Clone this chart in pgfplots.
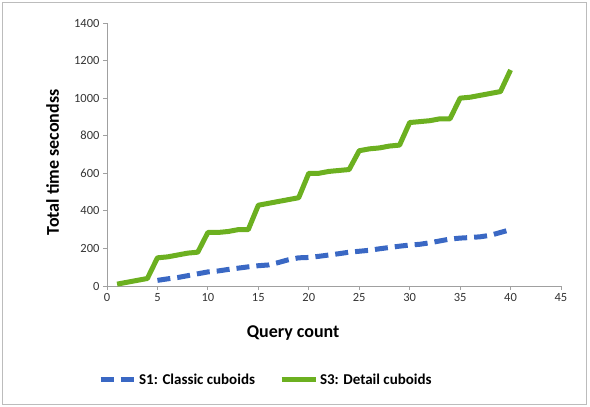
\documentclass[border=0pt]{standalone}
\usepackage{pgfplots}
\pgfplotsset{compat=1.18}
\usepackage{fontspec}
\setmainfont{Carlito}
\definecolor{sblue}{RGB}{58,104,196}
\definecolor{sgreen}{RGB}{108,176,32}
\definecolor{axgray}{RGB}{160,160,160}
\begin{document}
\begin{tikzpicture}[x=1pt,y=1pt]
\path[use as bounding box] (-107,-121) rectangle (483,286);
\draw[axgray!70, line width=1pt] (-104,-118) rectangle (479,283);
\begin{axis}[
    at={(0,0)}, anchor=origin,
    scale only axis,
    width=454pt, height=263pt,
    xmin=0, xmax=45, ymin=0, ymax=1400,
    xtick={0,5,...,45}, ytick={0,200,...,1400},
    axis x line=bottom, axis y line=left,
    axis line style={axgray, line width=0.8pt, -},
    tick style={axgray, line width=0.8pt},
    tick align=outside, major tick length=4pt,
    ticklabel style={font=\fontsize{12.5}{14}\selectfont, text=black!80},
    /pgf/number format/assume math mode=true,
    /pgf/number format/1000 sep={},
    scaled ticks=false,
    xlabel={Query count},
    ylabel={Total time secondss},
    xlabel style={font=\fontsize{18}{21}\selectfont\bfseries, at={(axis description cs:0.41,-0.18)}, anchor=center},
    ylabel style={font=\fontsize{18}{21}\selectfont\bfseries, at={(axis description cs:-0.12,0.47)}, anchor=center},
    legend style={draw=none, fill=none, at={(axis description cs:0.35,-0.357)}, anchor=center,
        font=\fontsize{15}{18}\selectfont\bfseries, legend columns=2,
        /tikz/every even column/.append style={column sep=22pt}},
    legend image code/.code={\draw[#1, line width=5pt] (0pt,0pt) -- (34pt,0pt);},
]
\addplot[sblue, line width=5pt, dash pattern=on 13pt off 7pt] coordinates {
 (5,30) (6,38) (7,45) (8,55) (9,65) (10,75) (11,80) (12,88) (13,95) (14,102)
 (15,108) (16,112) (17,125) (18,140) (19,150) (20,152) (21,158) (22,165) (23,172) (24,180)
 (25,185) (26,190) (27,198) (28,205) (29,212) (30,218) (31,222) (32,230) (33,240) (34,250)
 (35,255) (36,258) (37,262) (38,270) (39,285) (40,300)
};
\addlegendentry{S1: Classic cuboids}
\addplot[sgreen, line width=5pt, line join=round] coordinates {
 (1,10) (2,20) (3,30) (4,40) (5,150) (6,155) (7,165) (8,175) (9,180)
 (10,285) (11,285) (12,290) (13,300) (14,300) (15,430) (16,440) (17,450) (18,460) (19,470)
 (20,600) (21,600) (22,610) (23,615) (24,620) (25,720) (26,730) (27,735) (28,745) (29,750)
 (30,870) (31,875) (32,880) (33,890) (34,890) (35,1000) (36,1005) (37,1015) (38,1025) (39,1035)
 (40,1150)
};
\addlegendentry{S3: Detail cuboids}
\end{axis}
\end{tikzpicture}
\end{document}
